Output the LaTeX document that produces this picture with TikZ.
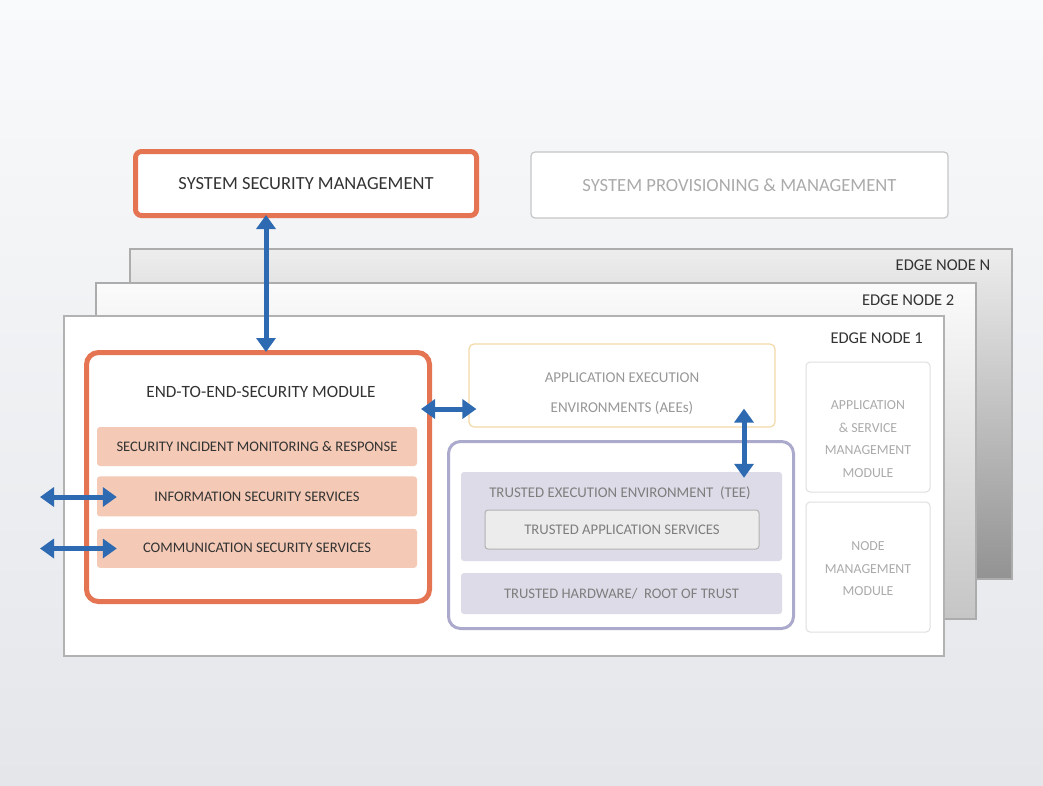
\documentclass[tikz,border=0pt]{standalone}
\usepackage{fontspec}
\setmainfont{Carlito}
\usepackage{tikz}
\usetikzlibrary{arrows.meta}
\usetikzlibrary{positioning}
\definecolor{secorange}{HTML}{E57452}
\definecolor{secsalmon}{HTML}{F4C9B5}
\definecolor{linkblue}{HTML}{2E6AB1}
\definecolor{teeline}{HTML}{ABA9CC}
\definecolor{teefill}{HTML}{DCDBE7}
\definecolor{aeeline}{HTML}{F3D9A6}
\definecolor{darktext}{HTML}{333333}
\definecolor{greytext}{HTML}{7E7E7E}
\definecolor{paletext}{HTML}{ABABAB}
\definecolor{backtop}{HTML}{F9FAFB}
\definecolor{backbottom}{HTML}{E5E6EA}
\def\fs#1{\fontsize{#1}{#1}\selectfont}

\begin{document}
\begin{tikzpicture}[x=1pt,y=-1pt,>={Triangle[width=19pt,length=14pt]},
			box/.style={rectangle,inner sep=0pt,align=center},
			edgenode/.style={box,draw=gray!65,line width=1.5pt,anchor=north west},
			edgelabel/.style={inner sep=0pt,text=darktext,font=\fs{16.5}},
			secbox/.style={box,draw=secorange,line width=5pt,rounded corners=10pt,fill=white},
			subbox/.style={box,fill=secsalmon,rounded corners=3pt,minimum width=320pt,text=darktext,font=\fs{14.6}},
			teesub/.style={box,fill=teefill,rounded corners=3pt,minimum width=321pt,text=greytext,font=\fs{14.6}},
			mgmt/.style={box,draw=gray!25,line width=1pt,rounded corners=4pt,fill=white,
				minimum width=124pt,minimum height=130pt},
			mgmttext/.style={box,text=paletext,font=\fontsize{13.8}{22.5}\selectfont},
			link/.style={<->,draw=linkblue,line width=5pt}]
	\tikzstyle{every node}=[]

	% backdrop
	\fill[top color=backtop,bottom color=backbottom] (0,0) rectangle (1043,785);
	\useasboundingbox (0,0) rectangle (1043,785);

	% top boxes
	\node[secbox,rounded corners=6pt,minimum width=341pt,minimum height=64pt,text=darktext,font=\fs{18.5}]
		(ssm) at (306,183.5) {SYSTEM SECURITY MANAGEMENT};
	\node[box,draw=gray!45,line width=1.2pt,rounded corners=4pt,fill=white!60,minimum width=417pt,
		minimum height=66pt,text=paletext,font=\fs{18.6}] (spm) at (739.5,185) {SYSTEM PROVISIONING \& MANAGEMENT};

	% stacked edge nodes
	\node[edgenode,top color=gray!14,bottom color=gray!85,minimum width=882pt,minimum height=330pt]
		(edgeN) at (129,248) {};
	\node[edgelabel,left=22pt of edgeN.north east,yshift=-17pt] (edgeNlabel) {EDGE NODE N};
	\node[edgenode,top color=gray!3,bottom color=gray!45,minimum width=880pt,minimum height=336pt]
		(edge2) at (95,282) {};
	\node[edgelabel,left=22pt of edge2.north east,yshift=-18pt] (edge2label) {EDGE NODE 2};
	\node[edgenode,fill=white,draw=gray!60,line width=2pt,minimum width=880pt,minimum height=340pt]
		(edge1) at (63,315) {};
	\node[edgelabel,left=22pt of edge1.north east,yshift=-23pt] (edge1label) {EDGE NODE 1};

	% end-to-end security
	\node[secbox,rounded corners=12pt,minimum width=343pt,minimum height=249pt] (e2e) at (258,477) {};
	\node[box,text=darktext,font=\fs{17.2}] (e2etitle) at (261,392) {END-TO-END-SECURITY MODULE};
	\node[subbox,minimum height=39pt] (incident) at (257,446.5) {SECURITY INCIDENT MONITORING \& RESPONSE};
	\node[subbox,minimum height=40pt,below=10pt of incident] (info) {INFORMATION SECURITY SERVICES};
	\node[subbox,minimum height=39pt,below=12pt of info] (comm) {COMMUNICATION SECURITY SERVICES};

	% execution environments
	\node[box,draw=aeeline,line width=1.2pt,rounded corners=5pt,fill=white,minimum width=306pt,
		minimum height=83pt] (aee) at (622,385.5) {};
	\node[box,text=greytext!80,font=\fontsize{15}{30}\selectfont] (aeetext) at ([yshift=-8pt]aee.center)
		{APPLICATION EXECUTION\\ENVIRONMENTS (AEEs)};
	\node[box,draw=teeline,line width=3pt,rounded corners=12pt,fill=white,minimum width=345pt,
		minimum height=187pt] (tee) at (621,535) {};
	\node[teesub,minimum height=89pt] (teein) at (621.5,516.5) {};
	\node[box,text=greytext,font=\fs{14.8}] (teetitle) at (620,493) {TRUSTED EXECUTION ENVIRONMENT~~(TEE)};
	\node[box,draw=gray!60,line width=1pt,fill=gray!15,rounded corners=3pt,minimum width=274pt,
		minimum height=39pt,text=greytext,font=\fs{14.7}] (tas) at (622,529.5) {TRUSTED APPLICATION SERVICES};
	\node[teesub,minimum height=41pt] (hw) at (621.5,593.5) {TRUSTED HARDWARE/~~ROOT OF TRUST};

	% management modules
	\node[mgmt] (asm) at (868,427) {};
	\node[mgmttext] (asmtext) at ([yshift=-12pt]asm.center) {APPLICATION\\\& SERVICE\\MANAGEMENT\\MODULE};
	\node[mgmt] (nm) at (868,567) {};
	\node[mgmttext] (nmtext) at ([yshift=-2pt]nm.center) {NODE\\MANAGEMENT\\MODULE};

	% links
	\coordinate (aeein) at ([yshift=-23.5pt]aee.west);
	\coordinate (infoext) at (40,497);
	\coordinate (commext) at (40,548.5);
	\draw[link,shorten <=-3pt,shorten >=-2pt] ([xshift=-40pt]ssm.south) -- ([xshift=-40pt]ssm.south |- e2e.north);
	\draw[link,shorten <=-11pt,shorten >=-8pt] (e2e.east |- aeein) -- (aeein);
	\draw[link,shorten <=-19pt,shorten >=-6pt] ([xshift=122pt]aee.south) -- ([xshift=122pt]aee.south |- teein.north);
	\draw[link] (infoext) -- ([xshift=20pt]info.west |- infoext);
	\draw[link] (commext) -- ([xshift=20pt]comm.west |- commext);
\end{tikzpicture}
\end{document}
